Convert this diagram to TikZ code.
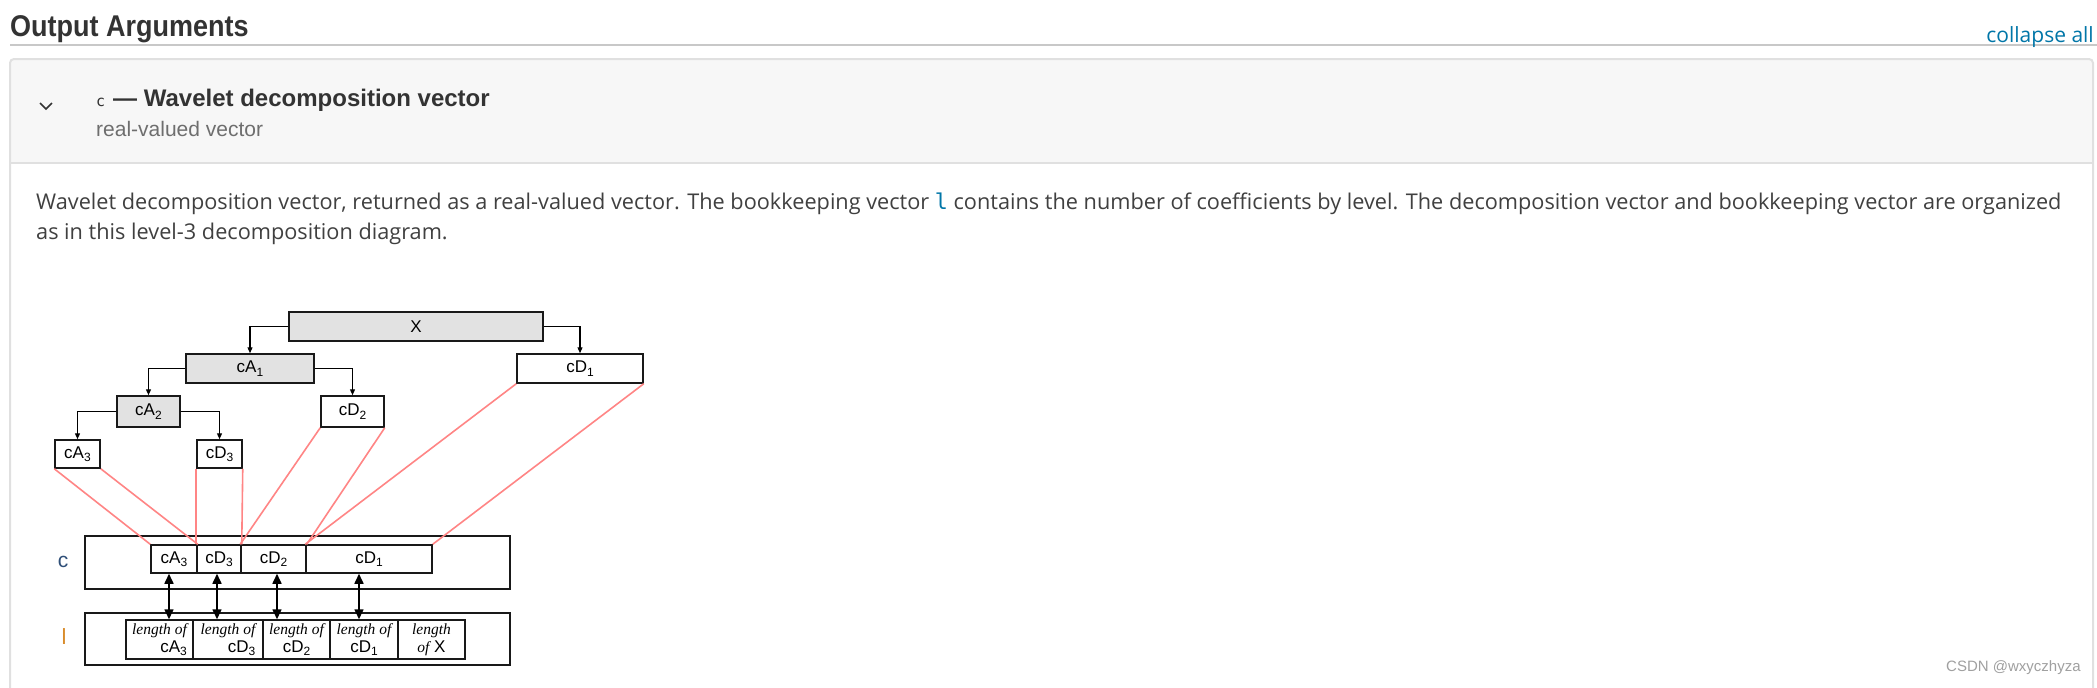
\documentclass[tikz,border=0pt]{standalone}
\usepackage{fontspec}
\setmainfont{Liberation Sans}
\newfontfamily\parafont{Open Sans}
\newfontfamily\codefont{DejaVu Sans Mono}
\newfontfamily\serifit{Liberation Serif}
\usetikzlibrary{arrows.meta,calc}
\newcommand\setfs[1]{\fontsize{#1}{#1}\selectfont}
\newcommand\sbs[1]{\raisebox{-3.5pt}{\setfs{12}#1}}
\definecolor{headc}{HTML}{333333}
\definecolor{rulec}{HTML}{C8C8C8}
\definecolor{linkc}{HTML}{0076A8}
\definecolor{panelc}{HTML}{F7F7F7}
\definecolor{panelb}{HTML}{E0E0E0}
\definecolor{subc}{HTML}{6E6E6E}
\definecolor{txtc}{HTML}{404040}
\definecolor{boxgray}{HTML}{E2E2E2}
\definecolor{pinkc}{HTML}{FF8585}
\definecolor{clab}{HTML}{2F4F78}
\definecolor{llab}{HTML}{D98C2B}
\definecolor{wmc}{HTML}{A0A0A0}
\tikzset{
  tbox/.style={draw=black!90, line width=1.5pt, inner sep=0pt, font=\setfs{17}},
  gbox/.style={tbox, fill=boxgray},
  cellbox/.style={tbox, font=\setfs{17}},
  lcell/.style={tbox, font=\setfs{17}, align=center},
  pinkline/.style={draw=pinkc, line width=1.6pt},
  tarrow/.style={-{Triangle[length=6pt,width=5pt]}, line width=1.2pt},
  dblarrow/.style={{Triangle[length=10pt,width=9pt]}-{Triangle[length=10pt,width=9pt]}, line width=1.6pt},
}
\newcommand\lenof{{\serifit\itshape\setfs{15.5}length of}}
\begin{document}
\begin{tikzpicture}[x=1pt,y=-1pt]
\useasboundingbox (0,0) rectangle (2097,688);
\fill[white] (0,0) rectangle (2097,688);
% heading
\node[anchor=base west, inner sep=0pt, text=headc, font=\setfs{30}\bfseries] (head) at (10,36) {\scalebox{0.9}[1]{Output Arguments}};
\draw[rulec, line width=2pt] (10,45) -- (2097,45);
\node[anchor=base east, inner sep=0pt, text=linkc, font=\parafont\setfs{21}] (collapse) at (2094,42) {collapse all};
% panel
\fill[panelc] (10,59) rectangle (2093,163);
\draw[panelb, line width=2pt, rounded corners=4pt] (10,700) -- (10,59) -- (2093,59) -- (2093,700);
\draw[panelb, line width=2pt] (10,163) -- (2093,163);
\draw[headc, line width=1.5pt] (40,103) -- (46,109) -- (52,103);
\node[anchor=base west, inner sep=0pt, text=headc, font=\codefont\setfs{15}] (cname) at (96,106) {c};
\node[anchor=base west, inner sep=0pt, text=headc, font=\setfs{24}\bfseries] (title) at (113,106) {— Wavelet decomposition vector};
\node[anchor=base west, inner sep=0pt, text=subc, font=\setfs{21}] (sub) at (96,136) {real-valued vector};
\node[anchor=base west, inner sep=0pt, text=txtc, font=\parafont\setfs{21.7}] (para1) at (36,209) {Wavelet decomposition vector, returned as a real-valued vector. The bookkeeping vector {\codefont\color{linkc}l} contains the number of coefficients by level. The decomposition vector and bookkeeping vector are organized};
\node[anchor=base west, inner sep=0pt, text=txtc, font=\parafont\setfs{21.7}] (para2) at (36,239) {as in this level-3 decomposition diagram.};
% tree
\node[gbox, minimum width=254pt, minimum height=29pt] (X) at (416,326.5) {X};
\node[gbox, minimum width=128pt, minimum height=29pt] (cA1) at (250,368.5) {cA\sbs{1}};
\node[tbox, minimum width=126pt, minimum height=29pt] (cD1) at (580,368.5) {cD\sbs{1}};
\node[gbox, minimum width=63pt, minimum height=31pt] (cA2) at (148.5,411.5) {cA\sbs{2}};
\node[tbox, minimum width=63pt, minimum height=31pt] (cD2) at (352.5,411.5) {cD\sbs{2}};
\node[tbox, minimum width=45pt, minimum height=28pt] (cA3) at (77.5,454) {cA\sbs{3}};
\node[tbox, minimum width=45pt, minimum height=28pt] (cD3) at (219.5,454) {cD\sbs{3}};
\draw[tarrow] (X.west) -| (cA1.north);
\draw[tarrow] (X.east) -| (cD1.north);
\draw[tarrow] (cA1.west) -| (cA2.north);
\draw[tarrow] (cA1.east) -| (cD2.north);
\draw[tarrow] (cA2.west) -| (cA3.north);
\draw[tarrow] (cA2.east) -| (cD3.north);
% c vector
\node[tbox, minimum width=425pt, minimum height=53pt] (cvec) at (297.5,562.5) {};
\node[anchor=center, text=clab, font=\setfs{21}] (clabel) at (63,562) {c};
\node[cellbox, minimum width=46pt, minimum height=28pt] (ccA3) at (174,559) {cA\sbs{3}};
\node[cellbox, minimum width=44pt, minimum height=28pt] (ccD3) at (219,559) {cD\sbs{3}};
\node[cellbox, minimum width=65pt, minimum height=28pt] (ccD2) at (273.5,559) {cD\sbs{2}};
\node[cellbox, minimum width=126pt, minimum height=28pt] (ccD1) at (369,559) {cD\sbs{1}};
% pink links
\draw[pinkline] (cA3.south west) -- (ccA3.north west);
\draw[pinkline] (cA3.south east) -- (ccA3.north east);
\draw[pinkline] (cD3.south west) -- (ccD3.north west);
\draw[pinkline] (cD3.south east) -- (ccD3.north east);
\draw[pinkline] (cD2.south west) -- (ccD2.north west);
\draw[pinkline] (cD2.south east) -- (ccD2.north east);
\draw[pinkline] (cD1.south west) -- (ccD1.north west);
\draw[pinkline] (cD1.south east) -- (ccD1.north east);
% l vector
\node[tbox, minimum width=425pt, minimum height=52pt] (lvec) at (297.5,639) {};
\node[anchor=center, text=llab, font=\setfs{22}] (llabel) at (64,637) {l};
\node[lcell, align=right, minimum width=67pt, minimum height=39pt] (lA3) at (159.5,639.5) {\lenof\\[1pt]cA\sbs{3}};
\node[lcell, align=right, minimum width=70pt, minimum height=39pt] (lD3) at (228,639.5) {\lenof\\[1pt]cD\sbs{3}};
\node[lcell, minimum width=67pt, minimum height=39pt] (lD2) at (296.5,639.5) {\lenof\\[1pt]cD\sbs{2}};
\node[lcell, minimum width=68pt, minimum height=39pt] (lD1) at (364,639.5) {\lenof\\[1pt]cD\sbs{1}};
\node[lcell, minimum width=67pt, minimum height=39pt] (lX) at (431.5,639.5) {{\serifit\itshape\setfs{15.5}length}\\[1pt]{\serifit\itshape\setfs{15.5}of} X};
% double arrows
\draw[dblarrow] ([xshift=-5pt]ccA3.south) -- ([xshift=-5pt]ccA3.south |- lA3.north);
\draw[dblarrow] ([xshift=-2pt]ccD3.south) -- ([xshift=-2pt]ccD3.south |- lD3.north);
\draw[dblarrow] ([xshift=3.5pt]ccD2.south) -- ([xshift=3.5pt]ccD2.south |- lD2.north);
\draw[dblarrow] ([xshift=-10pt]ccD1.south) -- ([xshift=-10pt]ccD1.south |- lD1.north);
% watermark
\node[anchor=base west, inner sep=0pt, text=wmc, font=\setfs{15}] (wm) at (1946,671) {CSDN @wxyczhyza};
\end{tikzpicture}
\end{document}
